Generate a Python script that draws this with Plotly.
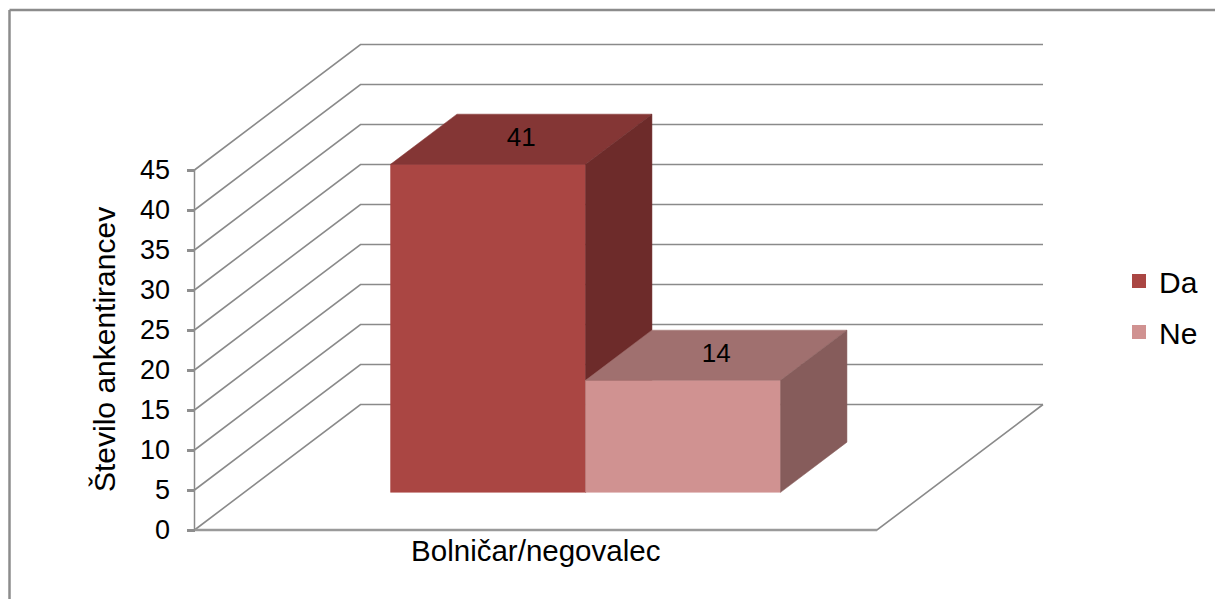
import plotly.graph_objects as go

categories = ["Bolničar/negovalec"]
series_names = ["Da", "Ne"]
da_values = [41]
ne_values = [14]
y_ticks = [0, 5, 10, 15, 20, 25, 30, 35, 40, 45]
y_title = "Število ankentirancev"

W, H = 1215, 599
X0_PX, X1_PX, Y0_PX, Y45_PX = 194.5, 877.0, 530.0, 170.0
DEPTH_DX_PX, DEPTH_DY_PX = 166.0, 125.5
PX_PER_X = X1_PX - X0_PX
PX_PER_Y = (Y0_PX - Y45_PX) / max(y_ticks)
DX = DEPTH_DX_PX / PX_PER_X
DY = DEPTH_DY_PX / PX_PER_Y
GAP = 1.5
GRID = "#8a8a8a"
FONT = "Liberation Sans"


def proj(x, d, v):
    return x + d * DX, v + d * DY


def poly(points, **kw):
    xs, ys = zip(*[proj(*p) for p in points])
    return go.Scatter(x=list(xs), y=list(ys), hoverinfo="skip", showlegend=False, **kw)


fig = go.Figure()

# walls: gridlines run from the front axis to the back wall and across it
for t in y_ticks:
    fig.add_trace(poly([(0, 0, t), (0, 1, t), (1, 1, t)], mode="lines",
                       line=dict(color=GRID, width=1.6)))
# floor edges and axis lines
fig.add_trace(poly([(0, 0, 0), (1, 0, 0), (1, 1, 0)], mode="lines", line=dict(color=GRID, width=1.6)))
fig.add_trace(poly([(0, 0, 0), (1, 0, 0)], mode="lines", line=dict(color="#9a9a9a", width=2.5)))
fig.add_trace(poly([(0, 0, 0), (0, 0, max(y_ticks))], mode="lines", line=dict(color=GRID, width=1.5)))

styles = [
    dict(front="#AA4643", top="#843635", side="#6D2B2A"),
    dict(front="#D09291", top="#A0706F", side="#865C5B"),
]
bar_w = 1 / (len(series_names) + GAP)
d0, d1 = 0.3, 0.7
values = [da_values[0], ne_values[0]]
for i, (v, s) in enumerate(zip(values, styles)):
    xa = GAP / 2 * bar_w + i * bar_w
    xb = xa + bar_w
    for pts, c in [
        ([(xa, d0, 0), (xb, d0, 0), (xb, d0, v), (xa, d0, v)], s["front"]),
        ([(xa, d0, v), (xb, d0, v), (xb, d1, v), (xa, d1, v)], s["top"]),
        ([(xb, d0, 0), (xb, d1, 0), (xb, d1, v), (xb, d0, v)], s["side"]),
    ]:
        fig.add_trace(poly(pts + pts[:1], mode="lines", fill="toself", fillcolor=c,
                           line=dict(color=c, width=0.5)))
    fig.add_trace(poly([((xa + xb) / 2, (d0 + d1) / 2, v)], mode="text", text=[str(v)],
                       textposition="middle center",
                       textfont=dict(family=FONT, size=26, color="#000000")))

for name, s in zip(series_names, styles):
    fig.add_trace(go.Scatter(x=[None], y=[None], mode="markers", name=name, legendgroup=name,
                             marker=dict(symbol="square", size=16, color=s["front"],
                                         line=dict(color=s["front"], width=2))))

fig.update_layout(
    width=W, height=H, autosize=False,
    margin=dict(l=0, r=0, t=0, b=0),
    paper_bgcolor="white", plot_bgcolor="white",
    legend=dict(x=1119 / W, y=1 - 255 / H, xanchor="left", yanchor="top",
                font=dict(family=FONT, size=30, color="#000000"),
                tracegroupgap=9, itemsizing="constant", itemwidth=30,
                bgcolor="rgba(0,0,0,0)"),
    xaxis=dict(range=[-X0_PX / PX_PER_X, (W - X0_PX) / PX_PER_X], domain=[0, 1],
               anchor="free", position=(H - Y0_PX) / H,
               tickmode="array", tickvals=[0.5], ticktext=categories,
               tickfont=dict(family=FONT, size=29.5, color="#000000"),
               ticks="", ticklen=0,
               showgrid=False, zeroline=False, showline=False),
    yaxis=dict(range=[-(H - Y0_PX) / PX_PER_Y, Y0_PX / PX_PER_Y], domain=[0, 1],
               anchor="free", position=X0_PX / W,
               tickmode="array", tickvals=y_ticks, ticktext=[str(t) for t in y_ticks],
               tickfont=dict(family=FONT, size=27, color="#000000"),
               ticks="outside", ticklen=8, tickwidth=2.5, tickcolor="#8e8e8e",
               ticklabelstandoff=11,
               showgrid=False, zeroline=False, showline=False),
    shapes=[
        dict(type="line", xref="paper", yref="paper", x0=9.5 / W, x1=1, y0=1 - 10 / H, y1=1 - 10 / H,
             line=dict(color="#8c8c8c", width=2.5)),
        dict(type="line", xref="paper", yref="paper", x0=9.5 / W, x1=9.5 / W, y0=0, y1=1 - 10 / H,
             line=dict(color="#8c8c8c", width=2.5)),
    ],
    annotations=[
        dict(text=y_title, textangle=-90, xref="paper", yref="paper", x=104 / W, y=1 - 350 / H,
             xanchor="center", yanchor="middle", showarrow=False,
             font=dict(family=FONT, size=30, color="#000000")),
    ],
)

fig.write_html("out.html", config=dict(displayModeBar=False),
               post_script="document.body.style.margin='0';document.documentElement.style.overflow='hidden';")
